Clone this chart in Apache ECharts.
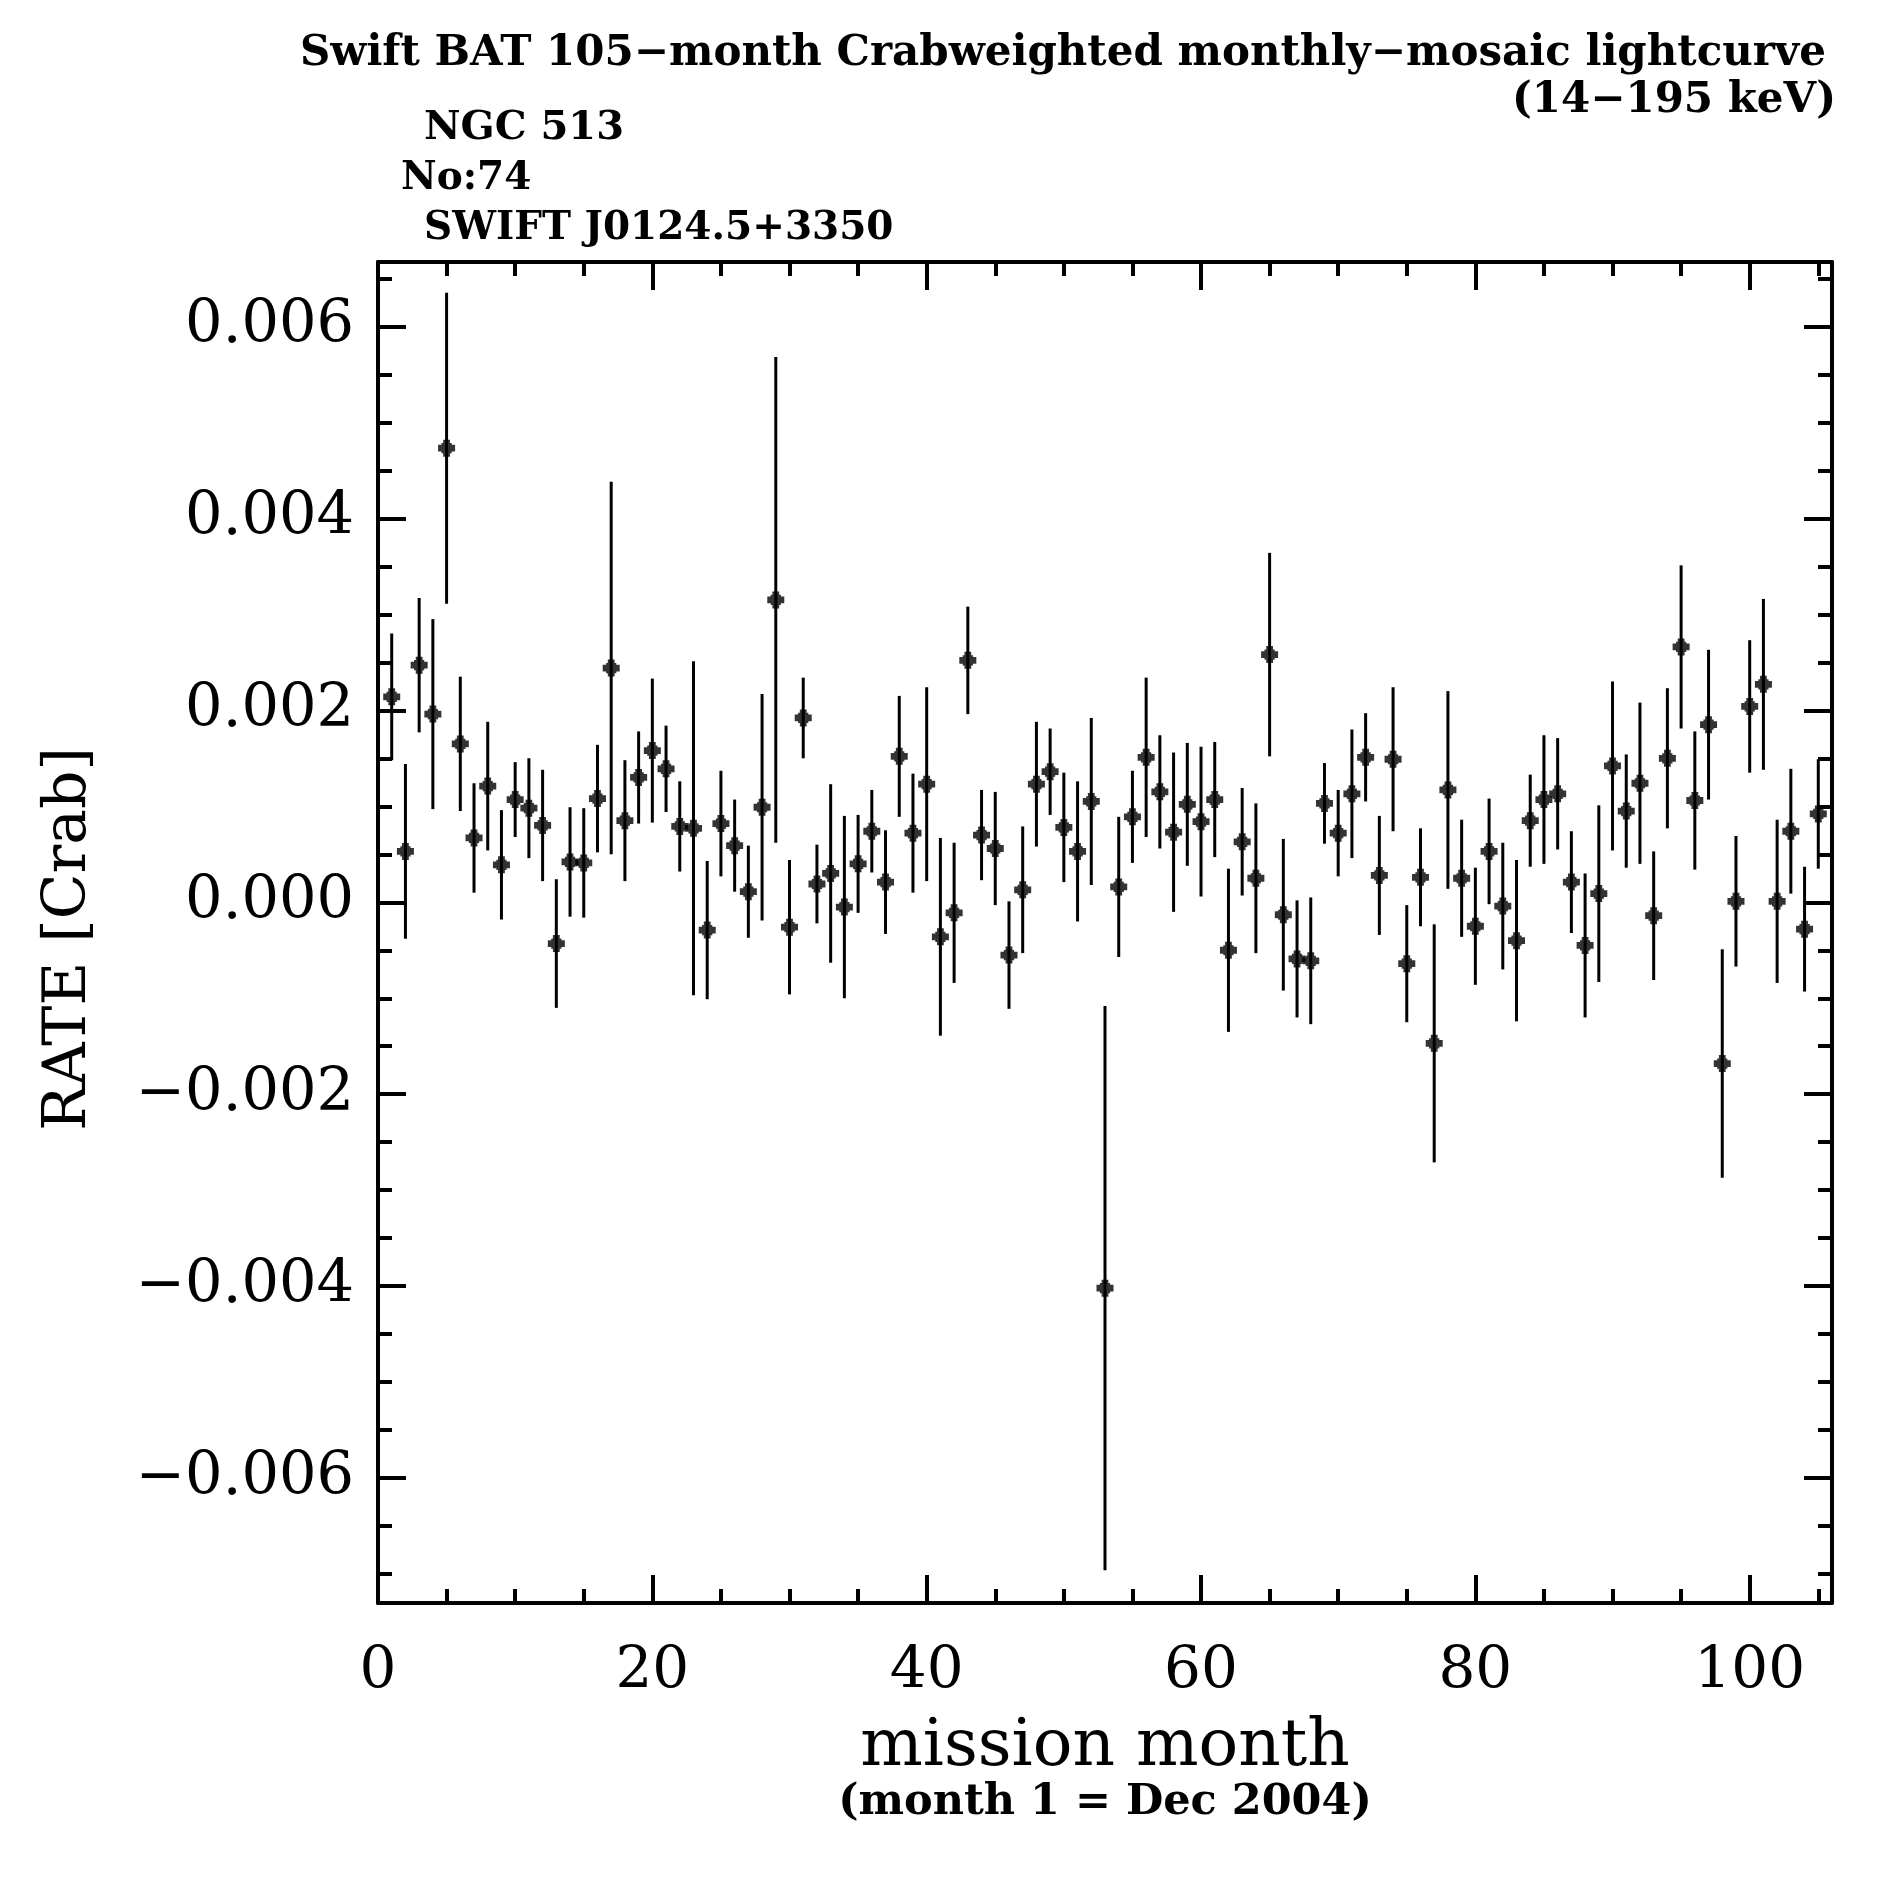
<!DOCTYPE html>
<html>
<head>
<meta charset="utf-8">
<script src="https://cdn.jsdelivr.net/npm/echarts@6/dist/echarts.min.js"></script>
<style>
html,body{margin:0;padding:0;background:#fff;}
#chart{width:1887px;height:1887px;}
</style>
</head>
<body>
<div id="chart"></div>
<script>
const months = [1,2,3,4,5,6,7,8,9,10,11,12,13,14,15,16,17,18,19,20,21,22,23,24,25,26,27,28,29,30,31,32,33,34,35,36,37,38,39,40,41,42,43,44,45,46,47,48,49,50,51,52,53,54,55,56,57,58,59,60,61,62,63,64,65,66,67,68,69,70,71,72,73,74,75,76,77,78,79,80,81,82,83,84,85,86,87,88,89,90,91,92,93,94,95,96,97,98,99,100,101,102,103,104,105];
const rates = [0.00214,0.00053,0.00247,0.00196,0.00473,0.00165,0.00067,0.00121,0.00039,0.00107,
0.00098,0.00080,-0.00043,0.00042,0.00041,0.00108,0.00244,0.00085,0.00130,0.00158,
0.00139,0.00079,0.00077,-0.00029,0.00082,0.00059,0.00011,0.00099,0.00315,-0.00026,
0.00192,0.00019,0.00030,-0.00005,0.00040,0.00074,0.00021,0.00152,0.00072,0.00123,
-0.00036,-0.00011,0.00252,0.00070,0.00056,-0.00055,0.00013,0.00123,0.00136,0.00078,
0.00053,0.00105,-0.00402,0.00016,0.00089,0.00151,0.00115,0.00073,0.00102,0.00084,
0.00107,-0.00050,0.00063,0.00025,0.00258,-0.00013,-0.00059,-0.00061,0.00103,0.00072,
0.00113,0.00151,0.00028,0.00149,-0.00064,0.00026,-0.00147,0.00117,0.00025,-0.00025,
0.00053,-0.00004,-0.00040,0.00085,0.00107,0.00113,0.00021,-0.00045,0.00009,0.00142,
0.00095,0.00124,-0.00014,0.00150,0.00266,0.00106,0.00185,-0.00168,0.00001,0.00204,
0.00227,0.00001,0.00074,-0.00028,0.00092];
const errors = [0.00066,0.00091,0.00070,0.00099,0.00162,0.00070,0.00057,0.00067,0.00057,0.00039,
0.00052,0.00058,0.00067,0.00057,0.00057,0.00056,0.00194,0.00063,0.00048,0.00075,
0.00045,0.00047,0.00174,0.00072,0.00055,0.00048,0.00048,0.00118,0.00253,0.00070,
0.00042,0.00041,0.00093,0.00095,0.00051,0.00043,0.00054,0.00063,0.00062,0.00101,
0.00103,0.00073,0.00056,0.00047,0.00059,0.00056,0.00066,0.00065,0.00045,0.00057,
0.00073,0.00087,0.00294,0.00073,0.00048,0.00083,0.00059,0.00083,0.00064,0.00078,
0.00060,0.00085,0.00056,0.00078,0.00106,0.00079,0.00061,0.00066,0.00042,0.00045,
0.00067,0.00046,0.00062,0.00075,0.00061,0.00051,0.00124,0.00103,0.00061,0.00061,
0.00055,0.00066,0.00084,0.00048,0.00067,0.00058,0.00053,0.00075,0.00092,0.00088,
0.00059,0.00084,0.00067,0.00073,0.00085,0.00072,0.00078,0.00119,0.00068,0.00069,
0.00089,0.00085,0.00065,0.00065,0.00057];

const titleLine1 = 'Swift BAT 105\u2212month Crabweighted monthly\u2212mosaic lightcurve';
const titleLine2 = '(14\u2212195 keV)';
const srcName = 'NGC 513';
const srcNo = 'No:74';
const srcId = 'SWIFT J0124.5+3350';
const xName = 'mission month';
const xSub = '(month 1 = Dec 2004)';
const yName = 'RATE [Crab]';

const FONT = 'DejaVu Serif';
const chart = echarts.init(document.getElementById('chart'), null, {renderer:'canvas'});

function yFmt(v){
  const q = v/0.002;
  if (Math.abs(q - Math.round(q)) > 1e-6) return '';
  const r = Math.round(q)*0.002;
  if (Math.abs(r) < 1e-12) return '0.000';
  return (r < 0 ? '\u2212' : '') + Math.abs(r).toFixed(3);
}
function xFmt(v){
  if (Math.abs(v/20 - Math.round(v/20)) > 1e-6) return '';
  return String(Math.round(v));
}
const lineSt = {color:'#000', width:4};
function xAx(pos, showLabel){
  return {
    type:'value', position:pos, min:0, max:106, minInterval:20, maxInterval:20, splitNumber:5,
    axisLine:{show:true, onZero:false, lineStyle:lineSt},
    axisTick:{show:true, inside:true, length:28, lineStyle:lineSt},
    minorTick:{show:true, splitNumber:4, length:14, lineStyle:lineSt},
    splitLine:{show:false}, minorSplitLine:{show:false},
    axisLabel:{show:showLabel, formatter:xFmt, fontFamily:FONT, fontSize:58, color:'#000', margin:40}
  };
}
function yAx(pos, showLabel){
  return {
    type:'value', position:pos, min:-0.0073, max:0.00667, minInterval:0.002, maxInterval:0.002, splitNumber:7,
    axisLine:{show:true, onZero:false, lineStyle:lineSt},
    axisTick:{show:true, inside:true, length:28, lineStyle:lineSt},
    minorTick:{show:true, splitNumber:4, length:14, lineStyle:lineSt},
    splitLine:{show:false}, minorSplitLine:{show:false},
    axisLabel:{show:showLabel, formatter:yFmt, fontFamily:FONT, fontSize:59, color:'#000', margin:24}
  };
}

const errData = months.map((m,i)=>[m, rates[i], errors[i]]);
const ptData = months.map((m,i)=>[m, rates[i]]);

const option = {
  backgroundColor:'#fff',
  animation:false,
  grid:{left:378, top:262, width:1454, height:1341, containLabel:false},
  xAxis:[xAx('bottom', true), xAx('top', false)],
  yAxis:[yAx('left', true), yAx('right', false)],
  series:[
    {
      type:'custom', xAxisIndex:0, yAxisIndex:0,
      data:errData,
      renderItem:function(params, api){
        const x = api.value(0), y = api.value(1), e = api.value(2);
        const p1 = api.coord([x, y+e]);
        const p2 = api.coord([x, y-e]);
        return {type:'line', shape:{x1:p1[0], y1:p1[1], x2:p2[0], y2:p2[1]}, style:{stroke:'#000', lineWidth:3}};
      },
      z:2
    },
    {
      type:'scatter', xAxisIndex:0, yAxisIndex:0,
      data:ptData,
      symbol:'path://M3,0H7V2H8V3H10V7H8V8H7V10H3V8H2V7H0V3H2V2H3Z',
      symbolSize:17,
      itemStyle:{color:'#000'},
      z:3
    }
  ],
  graphic:[
    {type:'text', x:1826, y:54, style:{text:titleLine1, font:'bold 42px "DejaVu Serif"', fill:'#000', align:'right', verticalAlign:'middle'}},
    {type:'text', x:1836, y:101, style:{text:titleLine2, font:'bold 42px "DejaVu Serif"', fill:'#000', align:'right', verticalAlign:'middle'}},
    {type:'text', x:424, y:129, style:{text:srcName, font:'bold 40px "DejaVu Serif"', fill:'#000', align:'left', verticalAlign:'middle'}},
    {type:'text', x:401, y:179, style:{text:srcNo, font:'bold 39px "DejaVu Serif"', fill:'#000', align:'left', verticalAlign:'middle'}},
    {type:'text', x:424, y:229, style:{text:srcId, font:'bold 39px "DejaVu Serif"', fill:'#000', align:'left', verticalAlign:'middle'}},
    {type:'text', x:1105, y:1748, style:{text:xName, font:'66px "DejaVu Serif"', fill:'#000', align:'center', verticalAlign:'middle'}},
    {type:'text', x:1105, y:1803, style:{text:xSub, font:'bold 43px "DejaVu Serif"', fill:'#000', align:'center', verticalAlign:'middle'}},
    {type:'text', x:69, y:939, rotation:Math.PI/2, style:{text:yName, font:'60px "DejaVu Serif"', fill:'#000', align:'center', verticalAlign:'middle'}}
  ]
};
chart.setOption(option);
</script>
</body>
</html>
